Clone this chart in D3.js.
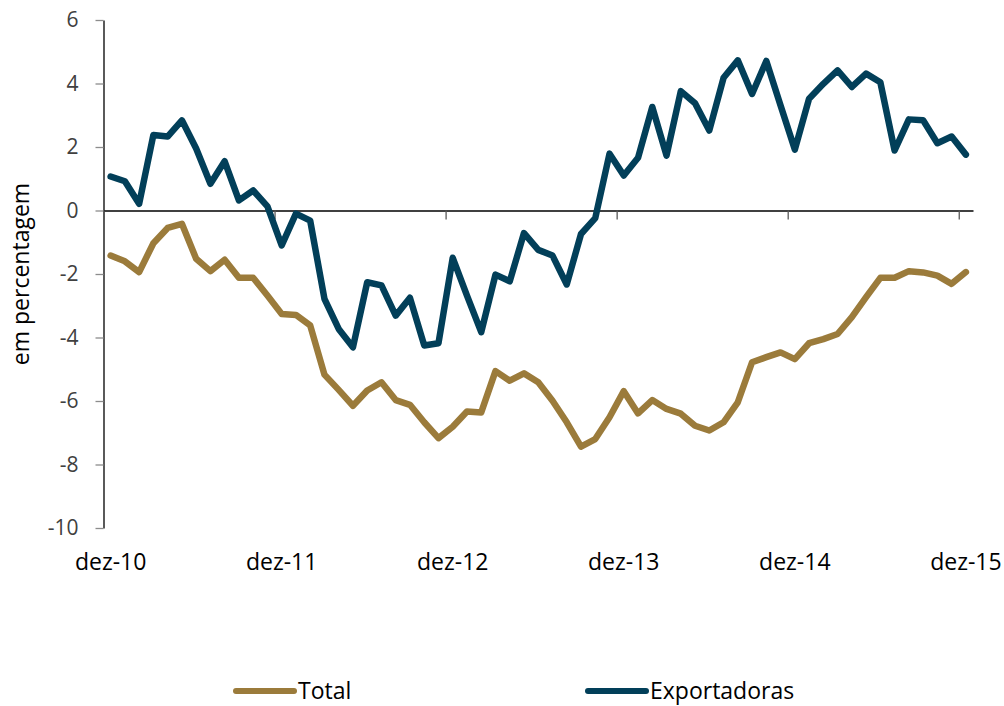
<!DOCTYPE html>
<html>
<head>
<meta charset="utf-8">
<script src="https://cdn.jsdelivr.net/npm/d3@7"></script>
<style>
  body { margin: 0; background: #fff; }
  svg { display: block; font-family: "Open Sans", sans-serif; }
</style>
</head>
<body>
<svg id="chart" width="1004" height="706"></svg>
<script>
// months, dez-10 to dez-15
const months = [
  "dez-10",
  "jan-11","fev-11","mar-11","abr-11","mai-11","jun-11","jul-11","ago-11","set-11","out-11","nov-11","dez-11",
  "jan-12","fev-12","mar-12","abr-12","mai-12","jun-12","jul-12","ago-12","set-12","out-12","nov-12","dez-12",
  "jan-13","fev-13","mar-13","abr-13","mai-13","jun-13","jul-13","ago-13","set-13","out-13","nov-13","dez-13",
  "jan-14","fev-14","mar-14","abr-14","mai-14","jun-14","jul-14","ago-14","set-14","out-14","nov-14","dez-14",
  "jan-15","fev-15","mar-15","abr-15","mai-15","jun-15","jul-15","ago-15","set-15","out-15","nov-15","dez-15"
]
const labelMonths = ["dez-10","dez-11","dez-12","dez-13","dez-14","dez-15"]

const total = [
  -1.42, -1.60, -1.94, -1.03, -0.55, -0.42, -1.52, -1.91, -1.55, -2.12, -2.12, -2.68, -3.26,
  -3.29, -3.62, -5.17, -5.65, -6.15, -5.67, -5.41, -5.97, -6.12, -6.67, -7.17, -6.81,
  -6.33, -6.36, -5.06, -5.36, -5.13, -5.41, -5.99, -6.67, -7.44, -7.20, -6.51, -5.69,
  -6.39, -5.97, -6.25, -6.40, -6.78, -6.93, -6.67, -6.04, -4.78, -4.62, -4.47, -4.68,
  -4.18, -4.05, -3.89, -3.36, -2.73, -2.12, -2.12, -1.91, -1.95, -2.05, -2.31, -1.94
]
const exportadoras = [
  1.07, 0.92, 0.21, 2.38, 2.33, 2.84, 1.95, 0.84, 1.55, 0.32, 0.63, 0.13, -1.10,
  -0.10, -0.32, -2.78, -3.73, -4.31, -2.26, -2.36, -3.31, -2.75, -4.25, -4.18, -1.49,
  -2.68, -3.83, -2.02, -2.23, -0.71, -1.24, -1.42, -2.33, -0.74, -0.24, 1.79, 1.10,
  1.66, 3.26, 1.73, 3.76, 3.38, 2.52, 4.18, 4.73, 3.67, 4.71, 3.31, 1.92,
  3.52, 3.99, 4.41, 3.89, 4.31, 4.04, 1.89, 2.87, 2.84, 2.12, 2.33, 1.76
]
const yTicks = [-10, -8, -6, -4, -2, 0, 2, 4, 6]

const series = [
  {name: "Total", values: total, color: "#9b7b3b"},
  {name: "Exportadoras", values: exportadoras, color: "#023f59"}
]

const svg = d3.select("#chart")
const plotLeft = 103.5, plotRight = 973, plotTop = 20, plotBottom = 528

const x = d3.scaleBand().domain(months).range([plotLeft, plotRight])
// edges of the categories, used for the tick marks
const xEdge = d3.scaleLinear().domain([0, months.length]).range([plotLeft, plotRight])
const y = d3.scaleLinear().domain([-10, 6]).range([plotBottom, plotTop])

// y axis (plain hyphen for negatives, like the original)
const yAxis = svg.append("g")
  .attr("transform", "translate(" + plotLeft + ",0)")
  .call(d3.axisLeft(y).tickValues(yTicks).tickFormat(d => String(d))
    .tickSize(8).tickPadding(17).tickSizeOuter(0))
yAxis.select(".domain").attr("stroke", "#000").attr("stroke-width", 1.3)
yAxis.selectAll(".tick line").attr("stroke", "#8c8c8c").attr("stroke-width", 1.3)
yAxis.selectAll(".tick text")
  .attr("fill", "#404040")
  .style("font-size", "21px")
  .style("font-family", "Open Sans")

// x axis line at zero with tick marks between years
const xAxis = svg.append("g")
  .attr("transform", "translate(0," + y(0) + ")")
  .call(d3.axisBottom(xEdge).tickValues([0, 12, 24, 36, 48, 60]).tickSize(9).tickFormat("").tickSizeOuter(0))
xAxis.select(".domain").attr("stroke", "#000").attr("stroke-width", 1.5)
xAxis.selectAll(".tick line").attr("stroke", "#595959").attr("stroke-width", 1.3)

// category labels along the bottom
const xLab = svg.append("g")
  .attr("transform", "translate(0,540)")
  .call(d3.axisBottom(x).tickValues(labelMonths).tickSize(0).tickPadding(0))
xLab.select(".domain").remove()
xLab.selectAll(".tick text")
  .attr("fill", "#000")
  .attr("dy", "1.3em")
  .style("font-size", "23px")
  .style("font-family", "Open Sans")

// y title
svg.append("text")
  .attr("transform", "translate(29," + ((plotTop + plotBottom) / 2) + ") rotate(-90)")
  .attr("text-anchor", "middle")
  .style("font-size", "23px")
  .attr("fill", "#000")
  .text("em percentagem")

// lines
const line = d3.line()
  .x((d, i) => x(months[i]) + x.bandwidth() / 2)
  .y(d => y(d))

svg.append("g").selectAll("path")
  .data(series)
  .join("path")
  .attr("d", d => line(d.values))
  .attr("fill", "none")
  .attr("stroke", d => d.color)
  .attr("stroke-width", 6.5)
  .attr("stroke-linejoin", "round")
  .attr("stroke-linecap", "round")

// legend
const legend = svg.append("g").attr("transform", "translate(0,691)")
const lg = legend.selectAll("g")
  .data(series)
  .join("g")
  .attr("transform", (d, i) => "translate(" + [236, 588][i] + ",0)")
lg.append("line")
  .attr("x1", 0).attr("x2", 58)
  .attr("stroke", d => d.color)
  .attr("stroke-width", 6)
  .attr("stroke-linecap", "round")
lg.append("text")
  .attr("x", 62)
  .attr("dy", "0.36em")
  .style("font-size", "23px")
  .attr("fill", "#000")
  .text(d => d.name)
</script>
</body>
</html>
